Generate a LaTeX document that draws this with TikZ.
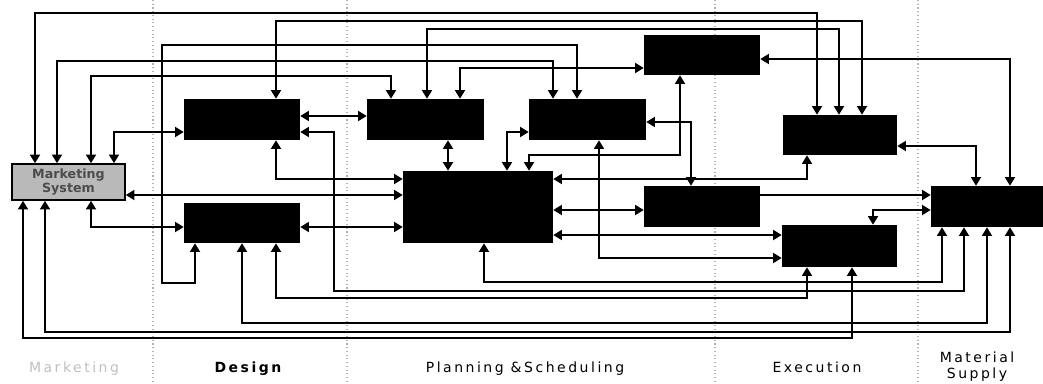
\documentclass[tikz,border=0pt]{standalone}
\usepackage{fontspec}
\setmainfont{DejaVu Sans}
\newfontfamily\labfont[LetterSpace=18]{DejaVu Sans}
\usetikzlibrary{arrows.meta,fit,calc}
\begin{document}
\begin{tikzpicture}[x=0.75pt,y=-0.75pt,
  blk/.style={fill=black,draw=none,inner sep=0pt},
  wire/.style={line width=1.35pt,line join=miter},
  ab/.style={wire,{Triangle[length=6.5pt,width=7.5pt]}-{Triangle[length=6.5pt,width=7.5pt]}},
  ae/.style={wire,-{Triangle[length=6.5pt,width=7.5pt]}},
  sep/.style={gray!60,dotted,line width=0.8pt},
  lab/.style={font=\labfont\fontsize{10.5}{12}\selectfont,anchor=base,inner sep=0pt}]
\useasboundingbox (0,0) rectangle (1043,383);
% separators
\draw[sep] (153,0) -- (153,383);
\draw[sep] (347,0) -- (347,383);
\draw[sep] (715,0) -- (715,383);
\draw[sep] (918,0) -- (918,383);
% boxes
\node[fit={(12,164)(125,200)},inner sep=0pt,draw=black,line width=1.2pt,fill=gray!55] (MKT) {};
\node[font=\bfseries\fontsize{9.5}{10}\selectfont,text=black!70,align=center] (MKTt) at (MKT.center) {Marketing\\System};
\node[blk,fit={(184,99)(300,140)}] (D1) {};
\node[blk,fit={(184,203)(300,243)}] (D2) {};
\node[blk,fit={(367,99)(484,140)}] (P1) {};
\node[blk,fit={(529,99)(646,140)}] (P2) {};
\node[blk,fit={(403,171)(553,243)}] (P3) {};
\node[blk,fit={(644,35)(760,75)}] (P4) {};
\node[blk,fit={(644,186)(760,227)}] (P5) {};
\node[blk,fit={(783,115)(897,155)}] (E1) {};
\node[blk,fit={(782,225)(897,267)}] (E2) {};
\node[blk,fit={(931,186)(1043,227)}] (M) {};
% connectors
\draw[ab] (MKT.north -| 35,0) |- (817,13) -- (E1.north -| 817,0);
\draw[ab] (D1.north -| 276,0) |- (862,21) -- (E1.north -| 862,0);
\draw[ab] (P1.north -| 427,0) |- (839,29) -- (E1.north -| 839,0);
\draw[ab] (D2.south -| 195,0) |- (162,283) |- (577,45) -- (P2.north -| 577,0);
\draw[ab] (MKT.north -| 57,0) |- (553,61) -- (P2.north -| 553,0);
\draw[ab] (MKT.north -| 91,0) |- (391,76) -- (P1.north -| 391,0);
\draw[ab] (P1.north -| 460,0) |- (P4.west |- 0,68);
\draw[ab] (MKT.north -| 114,0) |- (D1.west |- 0,132);
\draw[ab] (D1.east |- 0,116) -- (P1.west |- 0,116);
\draw[ab] (D1.east |- 0,132) -| (334,291) -| (M.south -| 964,0);
\draw[ab] (D1.south -| 276,0) |- (P3.west |- 0,179);
\draw[ab] (MKT.east |- 0,195) -- (P3.west |- 0,195);
\draw[ab] (D2.east |- 0,227) -- (P3.west |- 0,227);
\draw[ab] (MKT.south -| 91,0) |- (D2.west |- 0,227);
\draw[ab] (P1.south -| 448,0) -- (P3.north -| 448,0);
\draw[ab] (P3.north -| 507,0) |- (P2.west |- 0,132);
\draw[ab] (P4.south -| 680,0) |- (529,155) -- (P3.north -| 529,0);
\draw[ab] (P2.east |- 0,122) -| (P5.north -| 691,0);
\draw[ab] (P2.south -| 599,0) |- (E2.west |- 0,258);
\draw[ab] (P3.east |- 0,179) -| (E1.south -| 807,0);
\draw[ab] (P3.east |- 0,210) -- (P5.west |- 0,210);
\draw[ab] (P3.east |- 0,235) -- (E2.west |- 0,235);
\draw[ab] (P4.east |- 0,59) -| (M.north -| 1010,0);
\draw[ab] (E1.east |- 0,146) -| (M.north -| 976,0);
\draw[ae] (P5.east |- 0,195) -- (M.west |- 0,195);
\draw[ab] (E2.north -| 873,0) |- (M.west |- 0,210);
\draw[ab] (P3.south -| 484,0) |- (942,282) -- (M.south -| 942,0);
\draw[ab] (D2.south -| 276,0) |- (807,298) -- (E2.south -| 807,0);
\draw[ab] (D2.south -| 242,0) |- (987,323) -- (M.south -| 987,0);
\draw[ab] (MKT.south -| 45,0) |- (1010,332) -- (M.south -| 1010,0);
\draw[ab] (MKT.south -| 23,0) |- (852,338) -- (E2.south -| 852,0);
% labels
\node[lab,text=gray!50] (lm) at (74,372) {Marketing};
\node[lab,font=\labfont\bfseries\fontsize{10.5}{12}\selectfont] (ld) at (248,372) {Design};
\node[lab] (lp) at (525,372) {Planning \&Scheduling};
\node[lab] (le) at (817,372) {Execution};
\node[lab] (lma) at (977,362) {Material};
\node[lab] (lsu) at (977,378) {Supply};
\end{tikzpicture}
\end{document}
